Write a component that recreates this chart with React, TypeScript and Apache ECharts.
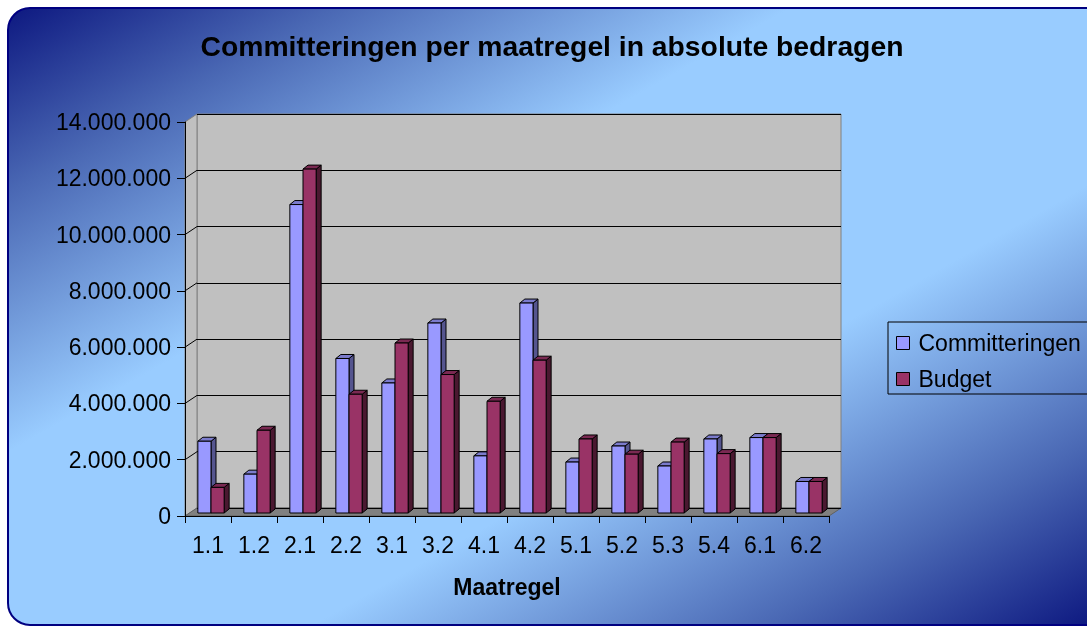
import React, { useEffect, useRef } from "react";
import * as echarts from "echarts";

const categories = ["1.1", "1.2", "2.1", "2.2", "3.1", "3.2", "4.1", "4.2", "5.1", "5.2", "5.3", "5.4", "6.1", "6.2"];
const committeringen = [2550000, 1380000, 10960000, 5490000, 4620000, 6750000, 2030000, 7460000, 1810000, 2380000, 1670000, 2630000, 2680000, 1120000];
const budget = [910000, 2940000, 12220000, 4220000, 6040000, 4920000, 3970000, 5430000, 2630000, 2090000, 2520000, 2110000, 2680000, 1120000];
const wallGridValues = [2000000, 4000000, 6000000, 8000000, 10000000, 12000000];
const seriesNames = ["Committeringen", "Budget"];
const titleText = "Committeringen per maatregel in absolute bedragen";
const axisTitle = "Maatregel";

const FONT = "'Liberation Sans', Arial, sans-serif";
const fmt = (v: number) => String(Math.round(v)).replace(/\B(?=(\d{3})+(?!\d))/g, ".");

const palette = [
  { front: "#9999ff", top: "#7b7bcc", side: "#55558f" },
  { front: "#993366", top: "#7a2952", side: "#4a1830" },
];

function makeBarRenderer(idx: number) {
  return (params: any, api: any) => {
    const cat = api.value(0);
    const v = api.value(1);
    const base = api.coord([cat, 0]);
    const top = api.coord([cat, v]);
    const band = api.size([1, 0])[0];
    const w = band / 3.5;
    const x0 = base[0] - w + idx * w;
    const x1 = x0 + w;
    const yb = base[1];
    const yt = top[1];
    const dx = 5;
    const dy = 4;
    const c = palette[idx];
    return {
      type: "group",
      children: [
        {
          type: "polygon",
          shape: { points: [[x1, yt], [x1 + dx, yt - dy], [x1 + dx, yb - dy], [x1, yb]] },
          style: { fill: c.side, stroke: "#000", lineWidth: 1 },
        },
        {
          type: "polygon",
          shape: { points: [[x0, yt], [x0 + dx, yt - dy], [x1 + dx, yt - dy], [x1, yt]] },
          style: { fill: c.top, stroke: "#000", lineWidth: 1 },
        },
        {
          type: "rect",
          shape: { x: x0, y: yt, width: w, height: yb - yt },
          style: { fill: c.front, stroke: "#000", lineWidth: 1 },
        },
      ],
    };
  };
}

export default function App() {
  const ref = useRef<HTMLDivElement>(null);
  useEffect(() => {
    document.body.style.margin = "0";
    document.body.style.overflow = "hidden";
    const chart = echarts.init(ref.current!, null, { renderer: "svg" });
    const yCommon = { type: "value", min: 0, max: 14000000, interval: 2000000 };
    const option: any = {
      animation: false,
      graphic: [
        {
          type: "rect",
          z: -10,
          shape: { x: 8, y: 8, width: 1300, height: 617, r: 22 },
          style: {
            fill: {
              type: "linear",
              global: true,
              x: 286.6,
              y: -150.2,
              x2: 816.4,
              y2: 783.2,
              colorStops: [
                { offset: 0, color: "#0d1880" },
                { offset: 0.15, color: "#4a68b4" },
                { offset: 0.36, color: "#99ccff" },
                { offset: 0.64, color: "#99ccff" },
                { offset: 0.85, color: "#4a68b4" },
                { offset: 1, color: "#0d1880" },
              ],
            },
            stroke: "#000080",
            lineWidth: 2,
          },
        },
        {
          type: "polygon",
          z: 0,
          shape: { points: [[185, 122], [197, 114], [197, 508], [185, 516]] },
          style: { fill: "#c0c0c0", stroke: "#808080", lineWidth: 1 },
        },
        {
          type: "polygon",
          z: 0,
          shape: { points: [[185, 516], [197, 508], [841, 508], [829, 516]] },
          style: { fill: "#808080", stroke: "#606060", lineWidth: 1 },
        },
        {
          type: "text",
          x: 552,
          y: 46,
          style: { text: titleText, font: `bold 28.3px ${FONT}`, fill: "#000", align: "center", verticalAlign: "middle" },
        },
        {
          type: "text",
          x: 507,
          y: 587,
          style: { text: axisTitle, font: `bold 23px ${FONT}`, fill: "#000", align: "center", verticalAlign: "middle" },
        },
      ],
      legend: {
        orient: "vertical",
        left: 888,
        top: 322,
        padding: [9, 14, 3, 8],
        itemWidth: 13,
        itemHeight: 13,
        itemGap: 12,
        borderColor: "#000",
        borderWidth: 1,
        icon: "rect",
        textStyle: { fontSize: 23, color: "#000", fontFamily: FONT, lineHeight: 24, padding: [0, 0, 0, 4] },
        data: seriesNames.map((n, i) => ({
          name: n,
          itemStyle: { color: palette[i].front, borderColor: "#000", borderWidth: 1 },
        })),
      },
      grid: [
        { left: 185, right: 258, top: 122, bottom: 110 },
        { left: 197, right: 246, top: 114, bottom: 118, show: true, backgroundColor: "#c0c0c0", borderColor: "#808080", borderWidth: 1 },
        { left: 188, right: 255, top: 119, bottom: 113 },
      ],
      xAxis: [
        {
          type: "category",
          gridIndex: 0,
          data: categories,
          z: 5,
          axisLine: { show: true, lineStyle: { color: "#000", width: 1 } },
          axisTick: { show: true, length: 7, lineStyle: { color: "#000" } },
          axisLabel: { interval: 0, fontSize: 23, color: "#000", fontFamily: FONT, margin: 17 },
        },
        { type: "category", gridIndex: 1, data: categories, show: false },
        { type: "category", gridIndex: 2, data: categories, show: false },
      ],
      yAxis: [
        {
          ...yCommon,
          gridIndex: 0,
          z: 5,
          axisLine: { show: true, lineStyle: { color: "#000", width: 1 } },
          axisTick: { show: true, length: 8, lineStyle: { color: "#000" } },
          axisLabel: { fontSize: 23, color: "#000", fontFamily: FONT, margin: 14, formatter: (v: number) => fmt(v) },
          splitLine: { show: false },
        },
        {
          ...yCommon,
          gridIndex: 1,
          z: 1,
          axisLine: { show: false },
          axisTick: { show: false },
          axisLabel: { show: false },
          splitLine: { show: true, lineStyle: { color: "#000", width: 1 } },
        },
        { ...yCommon, gridIndex: 2, show: false, splitLine: { show: false } },
      ],
      series: [
        {
          type: "custom",
          name: "wallLines",
          xAxisIndex: 0,
          yAxisIndex: 0,
          z: 1,
          silent: true,
          data: wallGridValues.map((v) => [0, v]),
          encode: { x: 0, y: 1 },
          renderItem: (params: any, api: any) => {
            const y = api.coord([0, api.value(1)])[1];
            const x = params.coordSys.x;
            return {
              type: "line",
              shape: { x1: x, y1: y, x2: x + 12, y2: y - 8 },
              style: { stroke: "#000", lineWidth: 1 },
            };
          },
        },
        ...[committeringen, budget].map((vals, idx) => ({
          type: "custom",
          name: seriesNames[idx],
          xAxisIndex: 2,
          yAxisIndex: 2,
          z: 2 + idx,
          itemStyle: { color: palette[idx].front, borderColor: "#000", borderWidth: 1 },
          data: vals.map((v, i) => [i, v]),
          encode: { x: 0, y: 1 },
          renderItem: makeBarRenderer(idx),
        })),
      ],
    };
    chart.setOption(option);
    return () => chart.dispose();
  }, []);
  return <div ref={ref} style={{ position: "fixed", left: 0, top: 0, width: 1087, height: 626 }} />;
}
